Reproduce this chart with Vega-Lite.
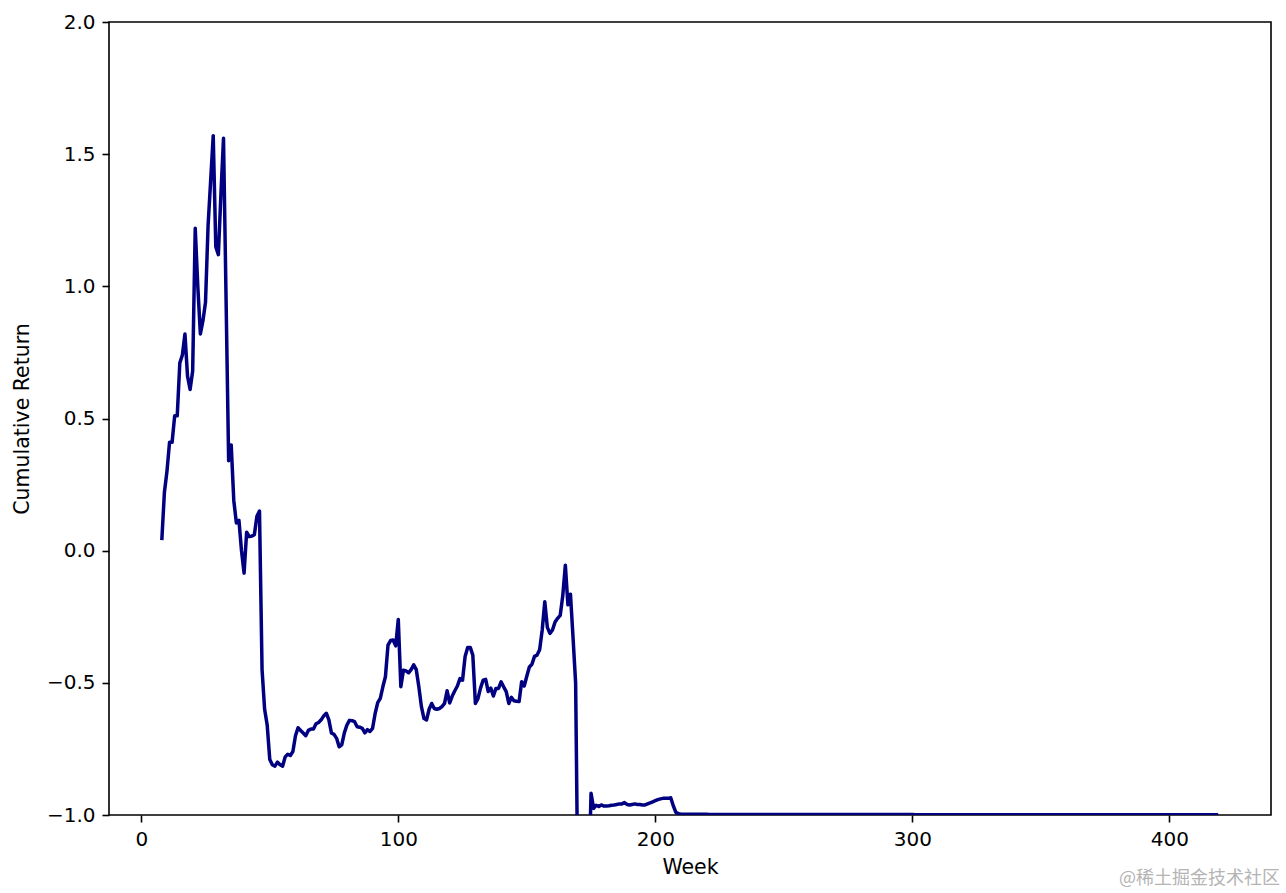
{
  "$schema": "https://vega.github.io/schema/vega-lite/v6.json",
  "width": 1162,
  "height": 793,
  "autosize": {"type": "none"},
  "padding": {"left": 109, "top": 22, "right": 15, "bottom": 78},
  "background": "white",
  "config": {
    "view": {"stroke": "black", "strokeWidth": 1.6},
    "font": "DejaVu Sans",
    "axis": {
      "domain": false,
      "grid": false,
      "ticks": true,
      "tickColor": "black",
      "tickWidth": 1.6,
      "tickSize": 7,
      "labelColor": "black",
      "labelFont": "DejaVu Sans",
      "labelFontSize": 20,
      "labelPadding": 7,
      "titleFont": "DejaVu Sans",
      "titleFontSize": 20.5,
      "titleFontWeight": "normal",
      "titleColor": "black"
    }
  },
  "title": {
    "text": "@稀土掘金技术社区",
    "orient": "bottom",
    "anchor": "end",
    "frame": "group",
    "font": "Noto Sans CJK SC",
    "fontSize": 18,
    "fontWeight": "normal",
    "color": "#b4b4b4",
    "offset": -8,
    "dx": 9
  },
  "data": {
    "values": [
      {"week":8,"ret":0.04},{"week":9,"ret":0.22},{"week":10,"ret":0.30},{"week":11,"ret":0.41},{"week":12,"ret":0.41},{"week":13,"ret":0.51},{"week":14,"ret":0.51},{"week":15,"ret":0.71},{"week":16,"ret":0.74},{"week":17,"ret":0.82},{"week":18,"ret":0.66},{"week":19,"ret":0.61},{"week":20,"ret":0.68},{"week":21,"ret":1.22},{"week":22,"ret":1.00},{"week":23,"ret":0.82},{"week":24,"ret":0.87},{"week":25,"ret":0.94},{"week":26,"ret":1.23},{"week":27,"ret":1.40},{"week":28,"ret":1.57},{"week":29,"ret":1.15},{"week":30,"ret":1.12},{"week":31,"ret":1.35},{"week":32,"ret":1.56},{"week":33,"ret":0.95},{"week":34,"ret":0.34},{"week":35,"ret":0.40},{"week":36,"ret":0.19},{"week":37,"ret":0.105},{"week":38,"ret":0.115},{"week":39,"ret":0.0},{"week":40,"ret":-0.085},{"week":41,"ret":0.07},{"week":42,"ret":0.053},{"week":43,"ret":0.055},{"week":44,"ret":0.06},{"week":45,"ret":0.13},{"week":46,"ret":0.15},
      {"week":47,"ret":-0.45},{"week":48,"ret":-0.60},{"week":49,"ret":-0.66},{"week":50,"ret":-0.79},{"week":51,"ret":-0.81},{"week":52,"ret":-0.815},{"week":53,"ret":-0.80},{"week":54,"ret":-0.81},{"week":55,"ret":-0.815},{"week":56,"ret":-0.78},{"week":57,"ret":-0.77},{"week":58,"ret":-0.775},{"week":59,"ret":-0.76},{"week":60,"ret":-0.70},{"week":61,"ret":-0.67},{"week":62,"ret":-0.68},{"week":63,"ret":-0.69},{"week":64,"ret":-0.70},{"week":65,"ret":-0.68},{"week":66,"ret":-0.675},{"week":67,"ret":-0.675},{"week":68,"ret":-0.655},{"week":69,"ret":-0.65},{"week":70,"ret":-0.64},{"week":71,"ret":-0.625},{"week":72,"ret":-0.615},{"week":73,"ret":-0.64},{"week":74,"ret":-0.69},{"week":75,"ret":-0.695},{"week":76,"ret":-0.71},{"week":77,"ret":-0.742},{"week":78,"ret":-0.735},{"week":79,"ret":-0.69},{"week":80,"ret":-0.66},{"week":81,"ret":-0.642},{"week":82,"ret":-0.643},{"week":83,"ret":-0.647},{"week":84,"ret":-0.666},{"week":85,"ret":-0.668},{"week":86,"ret":-0.672},{"week":87,"ret":-0.689},{"week":88,"ret":-0.677},{"week":89,"ret":-0.684},{"week":90,"ret":-0.672},{"week":91,"ret":-0.616},{"week":92,"ret":-0.575},{"week":93,"ret":-0.559},{"week":94,"ret":-0.515},{"week":95,"ret":-0.477},{"week":96,"ret":-0.357},{"week":97,"ret":-0.34},{"week":98,"ret":-0.338},{"week":99,"ret":-0.36},{"week":100,"ret":-0.26},{"week":101,"ret":-0.515},{"week":102,"ret":-0.452},{"week":103,"ret":-0.455},{"week":104,"ret":-0.462},{"week":105,"ret":-0.45},{"week":106,"ret":-0.432},{"week":107,"ret":-0.45},
      {"week":108,"ret":-0.515},{"week":109,"ret":-0.59},{"week":110,"ret":-0.635},{"week":111,"ret":-0.64},{"week":112,"ret":-0.60},{"week":113,"ret":-0.578},{"week":114,"ret":-0.597},{"week":115,"ret":-0.60},{"week":116,"ret":-0.597},{"week":117,"ret":-0.59},{"week":118,"ret":-0.578},{"week":119,"ret":-0.53},{"week":120,"ret":-0.576},{"week":121,"ret":-0.55},{"week":122,"ret":-0.53},{"week":123,"ret":-0.512},{"week":124,"ret":-0.484},{"week":125,"ret":-0.49},{"week":126,"ret":-0.40},{"week":127,"ret":-0.366},{"week":128,"ret":-0.366},{"week":129,"ret":-0.395},{"week":130,"ret":-0.578},{"week":131,"ret":-0.56},{"week":132,"ret":-0.52},{"week":133,"ret":-0.49},{"week":134,"ret":-0.487},{"week":135,"ret":-0.533},{"week":136,"ret":-0.52},{"week":137,"ret":-0.55},{"week":138,"ret":-0.521},{"week":139,"ret":-0.521},{"week":140,"ret":-0.496},{"week":141,"ret":-0.515},{"week":142,"ret":-0.533},{"week":143,"ret":-0.578},{"week":144,"ret":-0.555},{"week":145,"ret":-0.568},{"week":146,"ret":-0.57},{"week":147,"ret":-0.571},{"week":148,"ret":-0.496},{"week":149,"ret":-0.512},{"week":150,"ret":-0.475},{"week":151,"ret":-0.44},{"week":152,"ret":-0.43},{"week":153,"ret":-0.40},{"week":154,"ret":-0.395},{"week":155,"ret":-0.375},{"week":156,"ret":-0.30},{"week":157,"ret":-0.193},{"week":158,"ret":-0.29},{"week":159,"ret":-0.313},{"week":160,"ret":-0.30},{"week":161,"ret":-0.27},{"week":162,"ret":-0.256},{"week":163,"ret":-0.245},{"week":164,"ret":-0.17},{"week":165,"ret":-0.055},{"week":166,"ret":-0.205},{"week":167,"ret":-0.165},{"week":168,"ret":-0.33},{"week":169,"ret":-0.50},
      {"week":170,"ret":-1.4},{"week":171,"ret":-1.5},{"week":172,"ret":-1.5},{"week":173,"ret":-1.4},{"week":174,"ret":-1.3},
      {"week":175,"ret":-0.918},{"week":176,"ret":-0.975},{"week":177,"ret":-0.963},{"week":178,"ret":-0.968},{"week":179,"ret":-0.962},{"week":180,"ret":-0.966},{"week":181,"ret":-0.966},{"week":182,"ret":-0.965},{"week":183,"ret":-0.963},{"week":184,"ret":-0.962},{"week":185,"ret":-0.96},{"week":186,"ret":-0.958},{"week":187,"ret":-0.958},{"week":188,"ret":-0.953},{"week":189,"ret":-0.96},{"week":190,"ret":-0.962},{"week":191,"ret":-0.96},{"week":192,"ret":-0.958},{"week":193,"ret":-0.96},{"week":194,"ret":-0.96},{"week":195,"ret":-0.962},{"week":196,"ret":-0.962},{"week":197,"ret":-0.958},{"week":198,"ret":-0.954},{"week":199,"ret":-0.95},{"week":200,"ret":-0.946},{"week":201,"ret":-0.942},{"week":202,"ret":-0.939},{"week":203,"ret":-0.937},{"week":204,"ret":-0.937},{"week":205,"ret":-0.937},{"week":206,"ret":-0.935},{"week":207,"ret":-0.965},{"week":208,"ret":-0.99},{"week":209,"ret":-0.995},{"week":210,"ret":-0.997},
      {"week":211,"ret":-0.997},{"week":212,"ret":-0.997},{"week":213,"ret":-0.997},{"week":214,"ret":-0.997},{"week":215,"ret":-0.997},{"week":216,"ret":-0.997},{"week":217,"ret":-0.997},{"week":218,"ret":-0.997},{"week":219,"ret":-0.997},{"week":220,"ret":-0.997},
      {"week":221,"ret":-0.998},{"week":222,"ret":-0.998},{"week":223,"ret":-0.998},{"week":224,"ret":-0.998},{"week":225,"ret":-0.998},{"week":226,"ret":-0.998},{"week":227,"ret":-0.998},{"week":228,"ret":-0.998},{"week":229,"ret":-0.998},{"week":230,"ret":-0.998},{"week":231,"ret":-0.998},{"week":232,"ret":-0.998},{"week":233,"ret":-0.998},{"week":234,"ret":-0.998},{"week":235,"ret":-0.998},{"week":236,"ret":-0.998},{"week":237,"ret":-0.998},{"week":238,"ret":-0.998},{"week":239,"ret":-0.998},{"week":240,"ret":-0.998},
      {"week":241,"ret":-0.998},{"week":242,"ret":-0.998},{"week":243,"ret":-0.998},{"week":244,"ret":-0.998},{"week":245,"ret":-0.998},{"week":246,"ret":-0.998},{"week":247,"ret":-0.998},{"week":248,"ret":-0.998},{"week":249,"ret":-0.998},{"week":250,"ret":-0.998},{"week":251,"ret":-0.998},{"week":252,"ret":-0.998},{"week":253,"ret":-0.998},{"week":254,"ret":-0.998},{"week":255,"ret":-0.998},{"week":256,"ret":-0.998},{"week":257,"ret":-0.998},{"week":258,"ret":-0.998},{"week":259,"ret":-0.998},{"week":260,"ret":-0.998},
      {"week":261,"ret":-0.998},{"week":262,"ret":-0.998},{"week":263,"ret":-0.998},{"week":264,"ret":-0.998},{"week":265,"ret":-0.998},{"week":266,"ret":-0.998},{"week":267,"ret":-0.998},{"week":268,"ret":-0.998},{"week":269,"ret":-0.998},{"week":270,"ret":-0.998},{"week":271,"ret":-0.998},{"week":272,"ret":-0.998},{"week":273,"ret":-0.998},{"week":274,"ret":-0.998},{"week":275,"ret":-0.998},{"week":276,"ret":-0.998},{"week":277,"ret":-0.998},{"week":278,"ret":-0.998},{"week":279,"ret":-0.998},{"week":280,"ret":-0.998},
      {"week":281,"ret":-0.998},{"week":282,"ret":-0.998},{"week":283,"ret":-0.998},{"week":284,"ret":-0.998},{"week":285,"ret":-0.998},{"week":286,"ret":-0.998},{"week":287,"ret":-0.998},{"week":288,"ret":-0.998},{"week":289,"ret":-0.998},{"week":290,"ret":-0.998},{"week":291,"ret":-0.998},{"week":292,"ret":-0.998},{"week":293,"ret":-0.998},{"week":294,"ret":-0.998},{"week":295,"ret":-0.998},{"week":296,"ret":-0.998},{"week":297,"ret":-0.998},{"week":298,"ret":-0.998},{"week":299,"ret":-0.998},{"week":300,"ret":-0.998},
      {"week":301,"ret":-0.999},{"week":302,"ret":-0.999},{"week":303,"ret":-0.999},{"week":304,"ret":-0.999},{"week":305,"ret":-0.999},{"week":306,"ret":-0.999},{"week":307,"ret":-0.999},{"week":308,"ret":-0.999},{"week":309,"ret":-0.999},{"week":310,"ret":-0.999},{"week":311,"ret":-0.999},{"week":312,"ret":-0.999},{"week":313,"ret":-0.999},{"week":314,"ret":-0.999},{"week":315,"ret":-0.999},{"week":316,"ret":-0.999},{"week":317,"ret":-0.999},{"week":318,"ret":-0.999},{"week":319,"ret":-0.999},{"week":320,"ret":-0.999},
      {"week":321,"ret":-0.999},{"week":322,"ret":-0.999},{"week":323,"ret":-0.999},{"week":324,"ret":-0.999},{"week":325,"ret":-0.999},{"week":326,"ret":-0.999},{"week":327,"ret":-0.999},{"week":328,"ret":-0.999},{"week":329,"ret":-0.999},{"week":330,"ret":-0.999},{"week":331,"ret":-0.999},{"week":332,"ret":-0.999},{"week":333,"ret":-0.999},{"week":334,"ret":-0.999},{"week":335,"ret":-0.999},{"week":336,"ret":-0.999},{"week":337,"ret":-0.999},{"week":338,"ret":-0.999},{"week":339,"ret":-0.999},{"week":340,"ret":-0.999},
      {"week":341,"ret":-0.999},{"week":342,"ret":-0.999},{"week":343,"ret":-0.999},{"week":344,"ret":-0.999},{"week":345,"ret":-0.999},{"week":346,"ret":-0.999},{"week":347,"ret":-0.999},{"week":348,"ret":-0.999},{"week":349,"ret":-0.999},{"week":350,"ret":-0.999},{"week":351,"ret":-0.999},{"week":352,"ret":-0.999},{"week":353,"ret":-0.999},{"week":354,"ret":-0.999},{"week":355,"ret":-0.999},{"week":356,"ret":-0.999},{"week":357,"ret":-0.999},{"week":358,"ret":-0.999},{"week":359,"ret":-0.999},{"week":360,"ret":-0.999},
      {"week":361,"ret":-0.999},{"week":362,"ret":-0.999},{"week":363,"ret":-0.999},{"week":364,"ret":-0.999},{"week":365,"ret":-0.999},{"week":366,"ret":-0.999},{"week":367,"ret":-0.999},{"week":368,"ret":-0.999},{"week":369,"ret":-0.999},{"week":370,"ret":-0.999},{"week":371,"ret":-0.999},{"week":372,"ret":-0.999},{"week":373,"ret":-0.999},{"week":374,"ret":-0.999},{"week":375,"ret":-0.999},{"week":376,"ret":-0.999},{"week":377,"ret":-0.999},{"week":378,"ret":-0.999},{"week":379,"ret":-0.999},{"week":380,"ret":-0.999},
      {"week":381,"ret":-0.999},{"week":382,"ret":-0.999},{"week":383,"ret":-0.999},{"week":384,"ret":-0.999},{"week":385,"ret":-0.999},{"week":386,"ret":-0.999},{"week":387,"ret":-0.999},{"week":388,"ret":-0.999},{"week":389,"ret":-0.999},{"week":390,"ret":-0.999},{"week":391,"ret":-0.999},{"week":392,"ret":-0.999},{"week":393,"ret":-0.999},{"week":394,"ret":-0.999},{"week":395,"ret":-0.999},{"week":396,"ret":-0.999},{"week":397,"ret":-0.999},{"week":398,"ret":-0.999},{"week":399,"ret":-0.999},{"week":400,"ret":-0.999},
      {"week":401,"ret":-0.999},{"week":402,"ret":-0.999},{"week":403,"ret":-0.999},{"week":404,"ret":-0.999},{"week":405,"ret":-0.999},{"week":406,"ret":-0.999},{"week":407,"ret":-0.999},{"week":408,"ret":-0.999},{"week":409,"ret":-0.999},{"week":410,"ret":-0.999},{"week":411,"ret":-0.999},{"week":412,"ret":-0.999},{"week":413,"ret":-0.999},{"week":414,"ret":-0.999},{"week":415,"ret":-0.999},{"week":416,"ret":-0.999},{"week":417,"ret":-0.999},{"week":418,"ret":-0.999},{"week":419,"ret":-0.999}
    ]
  },
  "mark": {"type": "line", "color": "#000080", "strokeWidth": 3.5, "clip": true, "strokeJoin": "round", "strokeCap": "butt"},
  "encoding": {
    "x": {
      "field": "week",
      "type": "quantitative",
      "title": "Week",
      "scale": {"domain": [-12.55, 439.55], "nice": false, "zero": false},
      "axis": {"values": [0, 100, 200, 300, 400], "format": "d", "titlePadding": 8}
    },
    "y": {
      "field": "ret",
      "type": "quantitative",
      "title": "Cumulative Return",
      "scale": {"domain": [-1, 2], "nice": false, "zero": false},
      "axis": {"values": [-1, -0.5, 0, 0.5, 1, 1.5, 2], "format": ".1f", "titlePadding": 14}
    }
  }
}
